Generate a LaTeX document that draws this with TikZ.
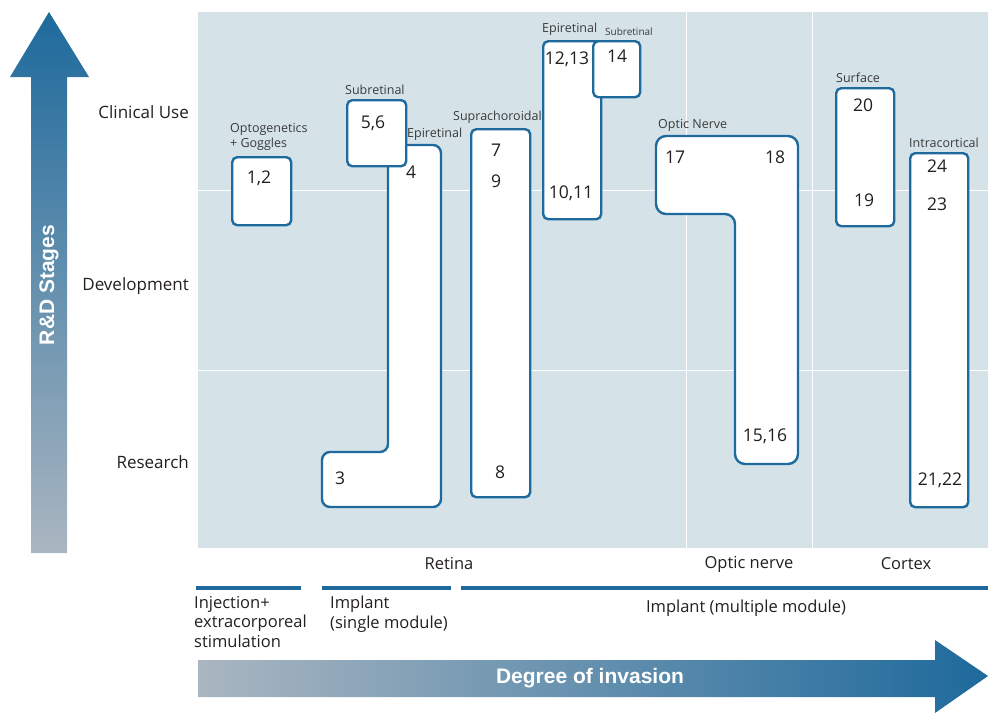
\documentclass[tikz,border=0pt]{standalone}
\usepackage{fontspec}
\setmainfont{Open Sans}
\newfontfamily\headfont{Liberation Sans}
\usetikzlibrary{positioning}

\definecolor{panelbg}{HTML}{D5E3E9}
\definecolor{frameblue}{HTML}{1E6A9C}
\definecolor{fadegray}{HTML}{AAB6C1}
\definecolor{inktext}{HTML}{231F20}
\definecolor{tagtext}{HTML}{3A3A3A}

\tikzset{
  stage/.style={anchor=east, inner sep=0pt, text=inktext, font=\fontsize{17}{20}\selectfont},
  num/.style={inner sep=0pt, text=inktext, font=\fontsize{17.5}{20}\selectfont},
  tag/.style={anchor=south west, inner sep=0pt, text=tagtext, font=\fontsize{12.5}{15.5}\selectfont},
  slot/.style={draw=frameblue, line width=2.4pt, fill=white, rounded corners=5pt,
    anchor=north west, inner sep=0pt},
  gridline/.style={white, line width=1pt},
  band/.style={frameblue, line width=4pt},
  cat/.style={inner sep=0pt, text=inktext, font=\fontsize{16.5}{19.5}\selectfont},
  headtext/.style={text=white, font=\headfont\bfseries\fontsize{21}{24}\selectfont},
}

\begin{document}
\begin{tikzpicture}[x=1pt, y=-1pt]
  \useasboundingbox (0,0) rectangle (988,713);

  % Background panel and grid
  \fill[panelbg] (198,12) rectangle (988,548);
  \draw[gridline] (198,190) -- (988,190);
  \draw[gridline] (198,370) -- (988,370);
  \draw[gridline] (686,12) -- (686,548);
  \draw[gridline] (812,12) -- (812,548);

  % Stage axis
  \shade[top color=frameblue, bottom color=fadegray]
    (31,553) -- (31,77) -- (10,77) -- (49,12) -- (89,77) -- (67,77) -- (67,553) -- cycle;
  \node[headtext, rotate=90] (rdlabel) at (49,285) {R\&D Stages};
  \node[stage] (clinical) at (189,112) {Clinical Use};
  \node[stage] (develop) at (189,286) {Development};
  \node[stage] (research) at (189,462) {Research};

  % Optogenetics
  \node[slot, minimum width=59pt, minimum height=68pt] (b12) at (231,156) {};
  \node[num] (n12) at (259,178) {1,2};
  \node[tag, align=left] (optolabel) at (230,151) {Optogenetics\\+ Goggles};

  % Epiretinal, single module (L shape)
  \draw[draw=frameblue, line width=2.4pt, fill=white, rounded corners=8pt]
    (388,145) -- (441,145) -- (441,507) -- (322,507) -- (322,452) -- (388,452) -- cycle;
  \node[num] (n4) at (411,172) {4};
  \node[num] (n3) at (340,478) {3};
  \node[tag] (epi1) at (407,141) {Epiretinal};

  % Subretinal, single module
  \node[slot, minimum width=59pt, minimum height=66pt] (b56) at (346,99) {};
  \node[num] (n56) at (373,123) {5,6};
  \node[tag, above right=4pt and -1pt of b56.north west] (sub1) {Subretinal};

  % Suprachoroidal
  \node[slot, minimum width=59pt, minimum height=368pt] (bsupra) at (470,128) {};
  \node[num] (n7) at (496,150) {7};
  \node[num] (n9) at (496,181) {9};
  \node[num] (n8) at (500,472) {8};
  \node[tag, above right=4pt and -17pt of bsupra.north west] (supra) {Suprachoroidal};

  % Epiretinal, multiple module
  \node[slot, minimum width=58pt, minimum height=178pt] (bepi) at (542,40) {};
  \node[num] (n1213) at (567,59) {12,13};
  \node[num] (n1011) at (571,193) {10,11};
  \node[tag, above right=4pt and 0pt of bepi.north west] (epi2) {Epiretinal};

  % Subretinal, multiple module
  \node[slot, minimum width=47pt, minimum height=56pt] (b14) at (592,40) {};
  \node[num] (n14) at (617,56) {14};
  \node[tag, font=\fontsize{10}{11}\selectfont, above right=4pt and 13pt of b14.north west] (sub2) {Subretinal};

  % Optic nerve (L shape)
  \draw[draw=frameblue, line width=2.4pt, fill=white, rounded corners=10pt]
    (656,136) -- (798,136) -- (798,464) -- (735,464) -- (735,214) -- (656,214) -- cycle;
  \node[num] (n17) at (675,157) {17};
  \node[num] (n18) at (775,157) {18};
  \node[num] (n1516) at (765,436) {15,16};
  \node[tag] (optic) at (658,132) {Optic Nerve};

  % Cortex surface
  \node[slot, minimum width=58pt, minimum height=138pt] (bsurf) at (835,87) {};
  \node[num] (n20) at (863,105) {20};
  \node[num] (n19) at (864,200) {19};
  \node[tag, above right=4pt and 1pt of bsurf.north west] (surf) {Surface};

  % Cortex intracortical
  \node[slot, minimum width=58pt, minimum height=354pt] (bintra) at (909,152) {};
  \node[num] (n24) at (937,166) {24};
  \node[num] (n23) at (937,204) {23};
  \node[num] (n2122) at (940,480) {21,22};
  \node[tag, above right=4pt and 0pt of bintra.north west] (intra) {Intracortical};

  % Target sites
  \node[cat] (retina) at (449,564) {Retina};
  \node[cat] (nerve) at (749,564) {Optic nerve};
  \node[cat] (cortex) at (906,564) {Cortex};

  % Approach bands
  \draw[band] (196,588) -- (301,588);
  \draw[band] (322,588) -- (451,588);
  \draw[band] (461,588) -- (988,588);
  \node[cat, anchor=north west, align=left] (inject) at (194,596) {Injection+\\extracorporeal\\stimulation};
  \node[cat, anchor=north west, align=left] (single) at (330,596) {Implant\\(single module)};
  \node[cat] (multi) at (746,608) {Implant (multiple module)};

  % Invasion axis
  \shade[left color=fadegray, right color=frameblue]
    (198,660) -- (935,660) -- (935,640) -- (988,676) -- (935,713) -- (935,697) -- (198,697) -- cycle;
  \node[headtext] (invasion) at (590,678) {Degree of invasion};
\end{tikzpicture}
\end{document}
